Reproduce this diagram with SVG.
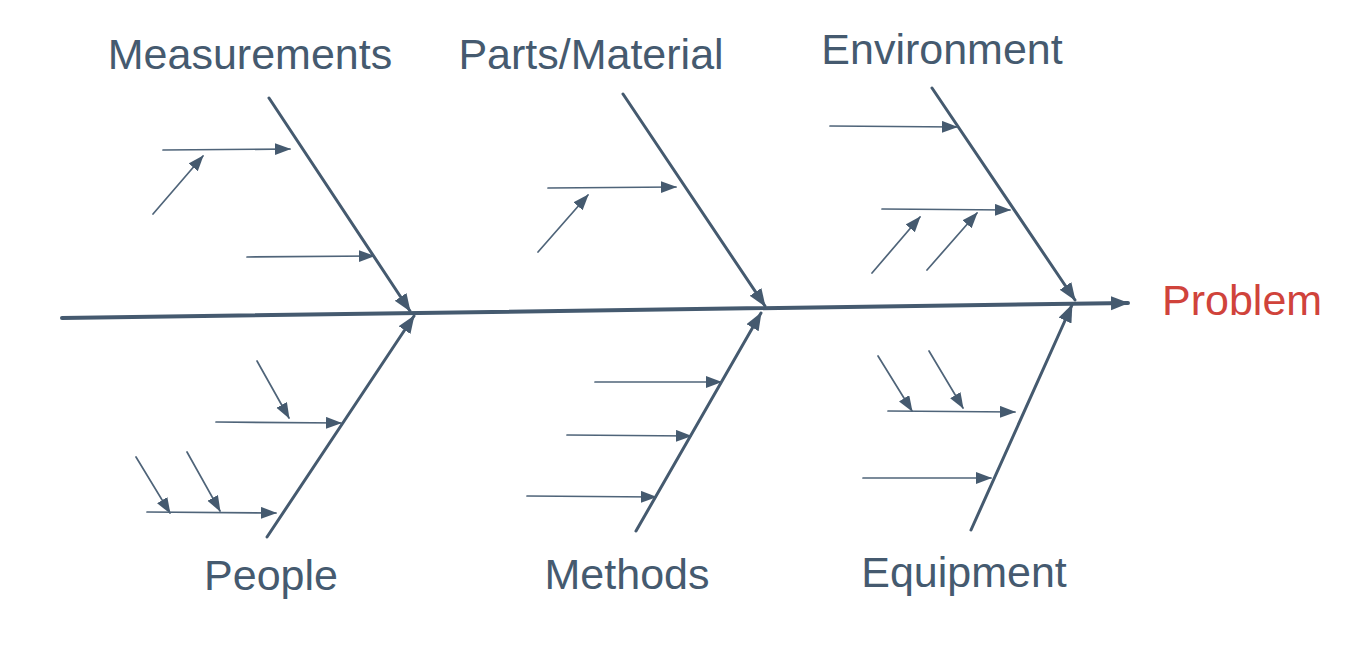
<svg xmlns="http://www.w3.org/2000/svg" width="1370" height="666" viewBox="0 0 1370 666">
<defs>
<style>
.lbl{font-family:"Liberation Sans",Arial,sans-serif;font-size:43px;fill:#455a6f;text-anchor:middle}
.prob{font-family:"Liberation Sans",Arial,sans-serif;font-size:43px;fill:#d0433b}
.spine{stroke:#455a6f;stroke-width:4;fill:none;stroke-linecap:round}
.bone{stroke:#455a6f;stroke-width:3;fill:none;stroke-linecap:round}
.sub{stroke:#4f6479;stroke-width:1.7;fill:none;stroke-linecap:round}
</style>
<marker id="ah" markerUnits="userSpaceOnUse" markerWidth="18" markerHeight="14" refX="15" refY="6" orient="auto">
<path d="M0,0 L16,6 L0,12 z" fill="#455a6f"/>
</marker>
<marker id="ahb" markerUnits="userSpaceOnUse" markerWidth="20" markerHeight="16" refX="17" refY="7" orient="auto">
<path d="M0,0 L18,7 L0,14 z" fill="#455a6f"/>
</marker>
</defs>
<rect width="1370" height="666" fill="#ffffff"/>
<g id="connectors">
<line class="spine" x1="62" y1="318" x2="1128" y2="303" marker-end="url(#ahb)"/>
<line class="bone" x1="269" y1="98" x2="410" y2="311" marker-end="url(#ahb)"/>
<line class="bone" x1="623" y1="94" x2="765" y2="306" marker-end="url(#ahb)"/>
<line class="bone" x1="932" y1="88" x2="1075" y2="300" marker-end="url(#ahb)"/>
<line class="bone" x1="267" y1="537" x2="414" y2="316" marker-end="url(#ahb)"/>
<line class="bone" x1="636" y1="531" x2="761" y2="313" marker-end="url(#ahb)"/>
<line class="bone" x1="971" y1="530" x2="1072" y2="305" marker-end="url(#ahb)"/>
<line class="sub" x1="163" y1="150" x2="290" y2="149" marker-end="url(#ah)"/>
<line class="sub" x1="153" y1="214" x2="203" y2="156" marker-end="url(#ah)"/>
<line class="sub" x1="247" y1="257" x2="374" y2="256" marker-end="url(#ah)"/>
<line class="sub" x1="548" y1="188" x2="676" y2="187" marker-end="url(#ah)"/>
<line class="sub" x1="538" y1="252" x2="588" y2="195" marker-end="url(#ah)"/>
<line class="sub" x1="830" y1="126" x2="957" y2="127" marker-end="url(#ah)"/>
<line class="sub" x1="882" y1="209" x2="1010" y2="210" marker-end="url(#ah)"/>
<line class="sub" x1="872" y1="273" x2="920" y2="217" marker-end="url(#ah)"/>
<line class="sub" x1="927" y1="270" x2="977" y2="213" marker-end="url(#ah)"/>
<line class="sub" x1="257" y1="361" x2="289" y2="418" marker-end="url(#ah)"/>
<line class="sub" x1="216" y1="422" x2="341" y2="423" marker-end="url(#ah)"/>
<line class="sub" x1="136" y1="457" x2="170" y2="513" marker-end="url(#ah)"/>
<line class="sub" x1="187" y1="452" x2="220" y2="511" marker-end="url(#ah)"/>
<line class="sub" x1="147" y1="512" x2="276" y2="513" marker-end="url(#ah)"/>
<line class="sub" x1="595" y1="382" x2="721" y2="382" marker-end="url(#ah)"/>
<line class="sub" x1="567" y1="435" x2="691" y2="436" marker-end="url(#ah)"/>
<line class="sub" x1="527" y1="496" x2="656" y2="497" marker-end="url(#ah)"/>
<line class="sub" x1="878" y1="356" x2="912" y2="411" marker-end="url(#ah)"/>
<line class="sub" x1="929" y1="351" x2="963" y2="408" marker-end="url(#ah)"/>
<line class="sub" x1="888" y1="411" x2="1015" y2="412" marker-end="url(#ah)"/>
<line class="sub" x1="863" y1="478" x2="991" y2="478" marker-end="url(#ah)"/>
</g>
<g id="measurements"><text class="lbl" x="250" y="69">Measurements</text></g>
<g id="parts-material"><text class="lbl" x="591" y="69">Parts/Material</text></g>
<g id="environment"><text class="lbl" x="942" y="64">Environment</text></g>
<g id="people"><text class="lbl" x="271" y="590">People</text></g>
<g id="methods"><text class="lbl" x="627" y="589">Methods</text></g>
<g id="equipment"><text class="lbl" x="964" y="587">Equipment</text></g>
<g id="problem"><text class="prob" x="1162" y="315">Problem</text></g>
</svg>
